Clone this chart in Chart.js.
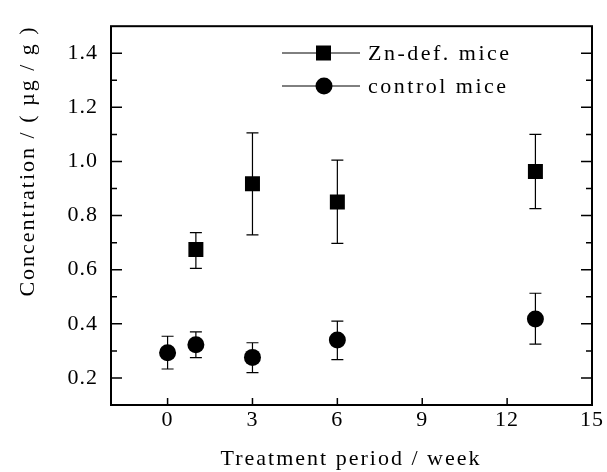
<!DOCTYPE html>
<html>
<head>
<meta charset="utf-8">
<script src="https://cdn.jsdelivr.net/npm/chart.js@4.4.0/dist/chart.umd.min.js"></script>
<style>
html, body { margin: 0; padding: 0; background: #fff; }
</style>
</head>
<body>
<canvas id="chart" width="607" height="472"></canvas>
<script>
// Zn-deficient mice
const znWeeks = [1, 3, 6, 13];
const znMean = [0.675, 0.918, 0.850, 0.963];
const znLow = [0.605, 0.729, 0.697, 0.826];
const znHigh = [0.737, 1.106, 1.005, 1.100];

// control mice
const ctrlWeeks = [0, 1, 3, 6, 13];
const ctrlMean = [0.293, 0.323, 0.276, 0.340, 0.418];
const ctrlLow = [0.233, 0.275, 0.220, 0.268, 0.325];
const ctrlHigh = [0.354, 0.370, 0.330, 0.410, 0.513];

const xTicks = [0, 3, 6, 9, 12, 15];
const yTicks = [0.2, 0.4, 0.6, 0.8, 1.0, 1.2, 1.4];
const yMinor = [0.3, 0.5, 0.7, 0.9, 1.1, 1.3];

const FONT = "'Liberation Serif', 'Times New Roman', serif";

function points(xs, ys) {
    return xs.map((x, i) => ({ x: x, y: ys[i] }));
}

const errors = [
    { low: znLow, high: znHigh },
    { low: ctrlLow, high: ctrlHigh }
];

const spacingPlugin = {
    id: "spacing",
    beforeUpdate(chart) { chart.ctx.letterSpacing = "1px"; },
    beforeDraw(chart) { chart.ctx.letterSpacing = "1px"; }
};

const errorBarPlugin = {
    id: "errorBars",
    beforeDatasetsDraw(chart) {
        const ctx = chart.ctx;
        const y = chart.scales.y;
        ctx.save();
        ctx.strokeStyle = "#000";
        ctx.lineWidth = 1.2;
        errors.forEach((err, i) => {
            const meta = chart.getDatasetMeta(i);
            meta.data.forEach((pt, j) => {
                const top = y.getPixelForValue(err.high[j]);
                const bot = y.getPixelForValue(err.low[j]);
                ctx.beginPath();
                ctx.moveTo(pt.x, top);
                ctx.lineTo(pt.x, bot);
                ctx.moveTo(pt.x - 6, top);
                ctx.lineTo(pt.x + 6, top);
                ctx.moveTo(pt.x - 6, bot);
                ctx.lineTo(pt.x + 6, bot);
                ctx.stroke();
            });
        });
        ctx.restore();
    }
};

const framePlugin = {
    id: "frame",
    afterDraw(chart) {
        const ctx = chart.ctx;
        const a = chart.chartArea;
        const xs = chart.scales.x;
        const ys = chart.scales.y;
        ctx.save();
        ctx.strokeStyle = "#000";
        ctx.lineWidth = 2;
        ctx.strokeRect(a.left, a.top, a.right - a.left, a.bottom - a.top);

        ctx.lineWidth = 1.5;
        ctx.beginPath();
        yTicks.forEach(v => {
            const p = ys.getPixelForValue(v);
            ctx.moveTo(a.left, p); ctx.lineTo(a.left + 11, p);
            ctx.moveTo(a.right, p); ctx.lineTo(a.right - 11, p);
        });
        yMinor.forEach(v => {
            const p = ys.getPixelForValue(v);
            ctx.moveTo(a.left, p); ctx.lineTo(a.left + 6, p);
            ctx.moveTo(a.right, p); ctx.lineTo(a.right - 6, p);
        });
        xTicks.forEach(v => {
            const p = xs.getPixelForValue(v);
            ctx.moveTo(p, a.bottom); ctx.lineTo(p, a.bottom - 7);
        });
        ctx.stroke();

        // axis titles
        ctx.fillStyle = "#000";
        ctx.font = "22px " + FONT;
        ctx.letterSpacing = "2px";
        ctx.textAlign = "center";
        ctx.textBaseline = "middle";
        ctx.fillText("Treatment period / week", 351, 459);
        ctx.save();
        ctx.translate(28, 161);
        ctx.rotate(-Math.PI / 2);
        ctx.fillText("Concentration / ( \u00b5g / g )", 0, 0);
        ctx.restore();

        // legend
        ctx.textAlign = "left";
        ctx.letterSpacing = "2.5px";
        ctx.lineWidth = 1;
        chart.data.datasets.forEach((ds, i) => {
            const ly = 53 + i * 33;
            ctx.beginPath();
            ctx.moveTo(282, ly); ctx.lineTo(360, ly);
            ctx.stroke();
            if (ds.pointStyle === "rect") {
                ctx.fillRect(316, ly - 7.5, 15, 15);
            } else {
                ctx.beginPath();
                ctx.arc(324, ly, 8.5, 0, Math.PI * 2);
                ctx.fill();
            }
            ctx.fillText(ds.label, 368, ly + 1);
        });
        ctx.restore();
    }
};

new Chart(document.getElementById("chart"), {
    type: "scatter",
    data: {
        datasets: [
            {
                label: "Zn-def. mice",
                data: points(znWeeks, znMean),
                pointStyle: "rect",
                pointRadius: 10.6,
                backgroundColor: "#000",
                borderColor: "#000",
                borderWidth: 0
            },
            {
                label: "control mice",
                data: points(ctrlWeeks, ctrlMean),
                pointStyle: "circle",
                pointRadius: 8.5,
                backgroundColor: "#000",
                borderColor: "#000",
                borderWidth: 0
            }
        ]
    },
    options: {
        responsive: false,
        animation: false,
        layout: { padding: { top: 14, right: 15, left: 0, bottom: 0 } },
        plugins: {
            legend: { display: false },
            tooltip: { enabled: false }
        },
        scales: {
            x: {
                type: "linear",
                min: -2,
                max: 15,
                afterFit: s => { s.height = 67; },
                afterBuildTicks: s => { s.ticks = xTicks.map(v => ({ value: v })); },
                grid: { display: false, drawTicks: false },
                border: { display: false },
                ticks: {
                    color: "#000",
                    padding: 2,
                    maxRotation: 0,
                    font: { family: FONT, size: 22 }
                }
            },
            y: {
                type: "linear",
                min: 0.1,
                max: 1.5,
                afterFit: s => { s.width = 111; },
                afterBuildTicks: s => { s.ticks = yTicks.map(v => ({ value: v })); },
                grid: { display: false, drawTicks: false },
                border: { display: false },
                ticks: {
                    color: "#000",
                    padding: 13,
                    font: { family: FONT, size: 22 },
                    callback: v => v.toFixed(1)
                }
            }
        }
    },
    plugins: [spacingPlugin, errorBarPlugin, framePlugin]
});
</script>
</body>
</html>
